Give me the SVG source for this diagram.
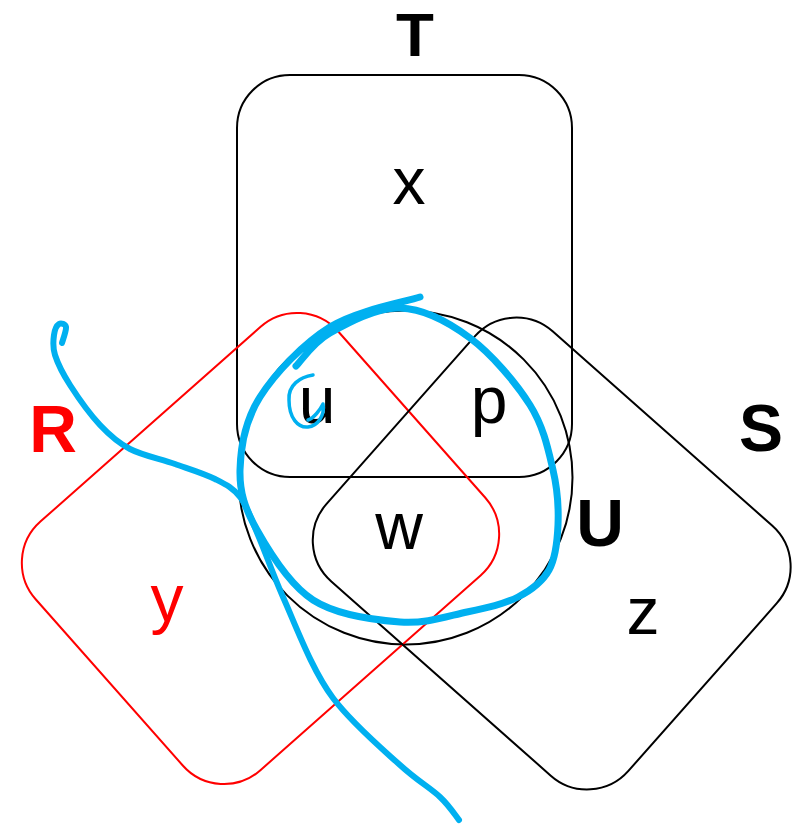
<svg xmlns="http://www.w3.org/2000/svg" width="800" height="824" viewBox="0 0 800 824">
<style>
.shape{fill:none;stroke:#000;stroke-width:2}
.red{stroke:#ff0000}
.lbl{font-family:"Liberation Sans",Arial,sans-serif;font-size:66px;text-anchor:middle;fill:#000}
.bold{font-weight:bold}
.rtxt{fill:#ff0000}
.ink{fill:none;stroke:#00b0f0;stroke-linecap:round;stroke-linejoin:round}
</style>
<rect width="800" height="824" fill="#fff"/>
<g id="T">
<rect class="shape" x="237" y="75" width="335" height="402" rx="53"/>
<text class="lbl bold" x="415" y="56" style="font-size:62px">T</text>
</g>
<g id="U">
<circle class="shape" cx="405.5" cy="477.5" r="167"/>
<text class="lbl bold" x="600" y="546">U</text>
</g>
<g id="R">
<rect class="shape red" x="-166" y="-202" width="332" height="404" rx="55" transform="translate(260.5 548.5) rotate(48.5)"/>
<text class="lbl bold rtxt" x="53" y="452">R</text>
</g>
<g id="S">
<rect class="shape" x="-201.5" y="-167" width="403" height="334" rx="55" transform="translate(551.7 553.5) rotate(41.5)"/>
<text class="lbl bold" x="761" y="451">S</text>
</g>
<g id="region-labels">
<text class="lbl" x="409" y="204">x</text>
<text class="lbl" x="317" y="423">u</text>
<text class="lbl" x="489" y="423">p</text>
<text class="lbl" x="399" y="549">w</text>
<text class="lbl rtxt" x="167" y="621">y</text>
<text class="lbl" x="643" y="634">z</text>
</g>
<g id="connectors">
<path class="ink" stroke-width="6" d="M62,343 C62.7,340.3 66.5,330.2 66,327 C65.5,323.8 61,322.7 59,324 C57,325.3 54.7,329.8 54,335 C53.3,340.2 52.3,346.7 55,355 C57.7,363.3 62.5,373.3 70,385 C77.5,396.7 90,414.3 100,425 C110,435.7 117.5,442.5 130,449 C142.5,455.5 160.8,459 175,464 C189.2,469 204.2,473.5 215,479 C225.8,484.5 232.8,487.7 240,497 C247.2,506.3 250.8,518.3 258,535 C265.2,551.7 272,572 283,597 C296,626 312,670 333,698 C352.5,724 382.2,748.8 400,765 C417.8,781.2 430.2,787.8 440,797 C449.8,806.2 455.8,816.2 459,820"/>
<path class="ink" stroke-width="7" d="M296,366 C301.7,360.5 312.7,342.7 330,333 C347.3,323.3 376.7,307.2 400,308 C423.3,308.8 448.3,321.8 470,338 C491.7,354.2 516.2,383 530,405 C543.8,427 548.3,450 553,470 C557.7,490 558.7,508.3 558,525 C557.3,541.7 555.7,558 549,570 C542.3,582 531.7,590 518,597 C504.3,604 486.7,607.8 467,612 C447.3,616.2 425.7,624 400,622 C374.3,620 336.8,615.3 313,600 C289.2,584.7 269.2,551.7 257,530 C244.8,508.3 239.5,492.2 240,470 C240.5,447.8 245,420.8 260,397 C275,373.2 303.3,343.7 330,327 C356.7,310.3 405,302 420,297"/>
<path class="ink" stroke-width="3.5" d="M313,375 C300,377 288,385 289,400 C289,418 298,428 308,427 C318,426 325,415 323,404 C320,410 314,418 308,420"/>
</g>
</svg>
